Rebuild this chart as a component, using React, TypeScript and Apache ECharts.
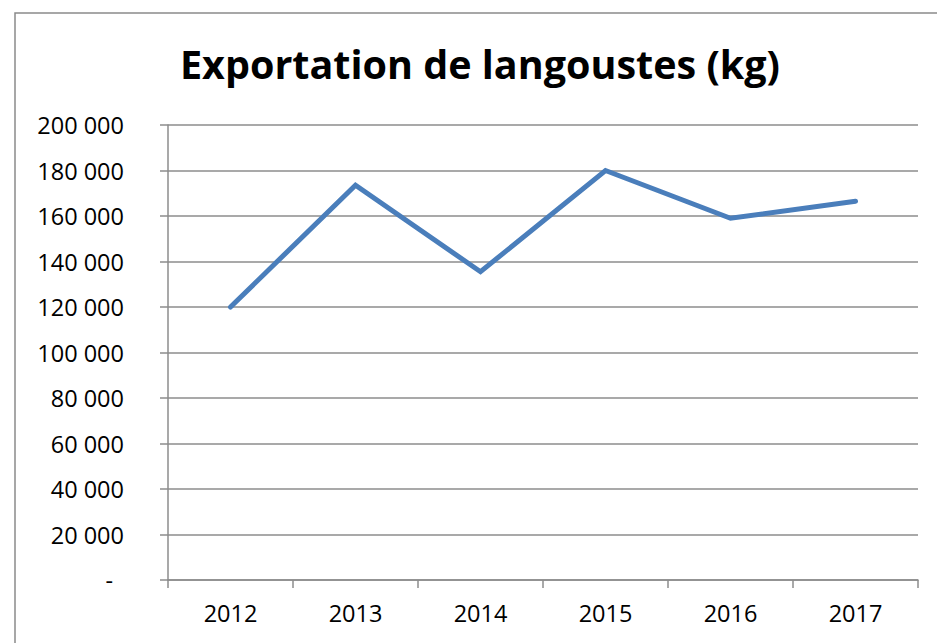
import React, { useEffect, useRef } from "react";
import * as echarts from "echarts";

const years = ["2012", "2013", "2014", "2015", "2016", "2017"];
const exports = [120000, 173500, 135500, 180000, 159000, 166500];
const titleText = "Exportation de langoustes (kg)";

const FONT = "'Open Sans', 'Noto Sans', sans-serif";
const GRID_COLOR = "#8c8c8c";

function fmt(v: number): string {
  if (v === 0) return "{d|-}";
  const s = String(Math.round(v));
  return s.replace(/\B(?=(\d{3})+(?!\d))/g, " ");
}

export default function App() {
  const ref = useRef<HTMLDivElement>(null);
  useEffect(() => {
    if (!ref.current) return;
    const chart = echarts.init(ref.current, undefined, { renderer: "svg" });
    chart.setOption({
      animation: false,
      backgroundColor: "#ffffff",
      grid: { left: 168, right: 19, top: 125, bottom: 63 },
      graphic: [
        {
          type: "rect",
          shape: { x: 15, y: 13, width: 960, height: 700 },
          style: { fill: "none", stroke: "#8a8a8a", lineWidth: 1.5 },
          silent: true,
        },
        {
          type: "text",
          x: 480,
          y: 64,
          style: {
            text: titleText,
            fontFamily: FONT,
            fontWeight: "bold",
            fontSize: 39.5,
            fill: "#000000",
            textAlign: "center",
            textVerticalAlign: "middle",
          },
        },
      ],
      xAxis: {
        type: "category",
        data: years,
        boundaryGap: true,
        axisLine: { show: true, lineStyle: { color: GRID_COLOR, width: 1.5 } },
        axisTick: { show: true, interval: 0, length: 8, lineStyle: { color: GRID_COLOR, width: 1.5 } },
        axisLabel: { fontFamily: FONT, fontSize: 23.5, color: "#000000", margin: 21, interval: 0 },
        splitLine: { show: false },
      },
      yAxis: {
        type: "value",
        min: 0,
        max: 200000,
        interval: 20000,
        axisLine: { show: true, lineStyle: { color: GRID_COLOR, width: 1.5 } },
        axisTick: { show: true, length: 8, lineStyle: { color: GRID_COLOR, width: 1.5 } },
        axisLabel: {
          fontFamily: FONT,
          fontSize: 23.5,
          color: "#000000",
          margin: 44,
          formatter: fmt,
          rich: { d: { fontFamily: FONT, fontSize: 23.5, color: "#000000", padding: [0, 11, 0, 0] } },
        },
        splitLine: { show: true, lineStyle: { color: GRID_COLOR, width: 1.5 } },
      },
      series: [
        {
          type: "line",
          data: exports,
          showSymbol: false,
          symbol: "none",
          lineStyle: { color: "#4a7ebb", width: 5, cap: "round", join: "miter" },
        },
      ],
    });
    return () => chart.dispose();
  }, []);
  return (
    <div
      ref={ref}
      style={{ position: "absolute", left: 0, top: 0, width: 937, height: 643 }}
    />
  );
}
